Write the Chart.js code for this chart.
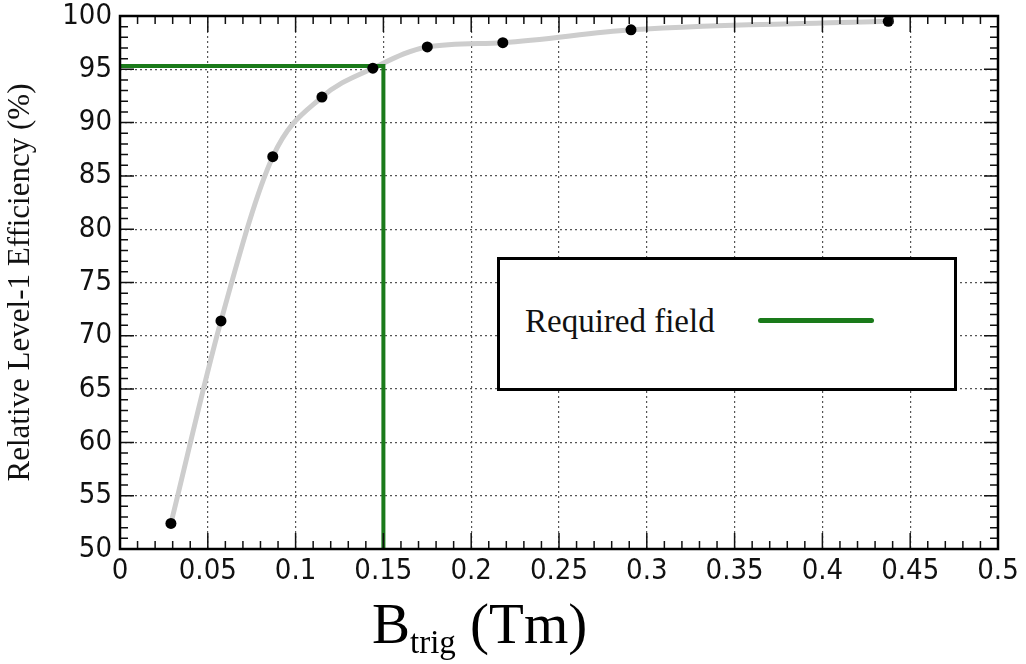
<!DOCTYPE html>
<html>
<head>
<meta charset="utf-8">
<script src="https://cdn.jsdelivr.net/npm/chart.js@4/dist/chart.umd.min.js"></script>
<style>
  html, body { margin: 0; padding: 0; background: #fff; }
  #wrap { position: relative; width: 1026px; height: 664px; }
  #legendBox {
    position: absolute; left: 497px; top: 257px; width: 454px; height: 128px;
    border: 3px solid #000; background: #fff;
  }
  #legendBox .txt {
    position: absolute; left: 25px; top: 43px; white-space: nowrap;
    font: 33px 'Liberation Serif', 'Times New Roman', serif; color: #111;
  }
  #legendBox .swatch {
    position: absolute; left: 258px; top: 58px; width: 116px; height: 5px;
    background: #1a7a1a; border-radius: 3px;
  }
  #xTitle {
    position: absolute; left: 372px; top: 591px; white-space: nowrap;
    font: 57px 'Liberation Serif', 'Times New Roman', serif; color: #000;
  }
  #xTitle sub { font-size: 33px; vertical-align: -10px; }
</style>
</head>
<body>
<div id="wrap">
  <canvas id="chart" width="1026" height="664"></canvas>
  <div id="legendBox"><span class="txt">Required field</span><span class="swatch"></span></div>
  <div id="xTitle">B<sub>trig</sub> (Tm)</div>
</div>
<script>
// measured points: trigger field (Tm) vs relative efficiency (%)
const bTrig = [0.029, 0.0575, 0.087, 0.115, 0.144, 0.175, 0.218, 0.291, 0.4375];
const efficiency = [52.4, 71.4, 86.8, 92.4, 95.1, 97.1, 97.5, 98.7, 99.5];

// required field marker
const requiredB = 0.15;
const requiredEff = 95.3;

const xRange = [0, 0.5];
const yRange = [50, 100];

const points = bTrig.map((x, i) => ({ x, y: efficiency[i] }));
const requiredLine = [
  { x: xRange[0], y: requiredEff },
  { x: requiredB, y: requiredEff },
  { x: requiredB, y: yRange[0] },
];

const tickFont = { family: "'DejaVu Sans Condensed', 'DejaVu Sans', sans-serif", size: 29 };
const gridStyle = { color: '#555', lineWidth: 1.2, drawTicks: false };

// frame and inward ticks on all four sides
const frameTicks = {
  id: 'frameTicks',
  afterDatasetsDraw(chart) {
    const { ctx, chartArea: a, scales: { x, y } } = chart;
    ctx.save();
    ctx.strokeStyle = '#111';
    ctx.lineWidth = 1.5;
    ctx.beginPath();
    for (let i = 0; i <= 50; i++) {
      const px = x.getPixelForValue(i * 0.01);
      const len = i % 5 === 0 ? 16 : 8;
      ctx.moveTo(px, a.bottom); ctx.lineTo(px, a.bottom - len);
      ctx.moveTo(px, a.top); ctx.lineTo(px, a.top + len);
    }
    for (let v = yRange[0]; v <= yRange[1]; v++) {
      const py = y.getPixelForValue(v);
      const len = v % 5 === 0 ? 14 : 8;
      ctx.moveTo(a.left, py); ctx.lineTo(a.left + len, py);
      ctx.moveTo(a.right, py); ctx.lineTo(a.right - len, py);
    }
    ctx.stroke();
    ctx.lineWidth = 2.5;
    ctx.strokeStyle = '#000';
    ctx.strokeRect(a.left, a.top, a.right - a.left, a.bottom - a.top);
    ctx.restore();
  }
};

new Chart(document.getElementById('chart'), {
  type: 'scatter',
  data: {
    datasets: [
      {
        label: 'points',
        data: points,
        showLine: false,
        pointRadius: 5.5,
        pointBackgroundColor: '#000',
        pointBorderWidth: 0,
        order: 0,
      },
      {
        label: 'Required field',
        data: requiredLine,
        showLine: true,
        borderColor: '#1a7a1a',
        borderWidth: 4,
        pointRadius: 0,
        order: 1,
      },
      {
        label: 'fit',
        data: points,
        showLine: true,
        borderColor: '#cdcdcd',
        borderWidth: 5,
        cubicInterpolationMode: 'monotone',
        pointRadius: 0,
        order: 2,
      },
    ]
  },
  options: {
    responsive: false,
    animation: false,
    layout: { padding: { top: 16, right: 28, left: 0, bottom: 0 } },
    plugins: { legend: { display: false }, tooltip: { enabled: false } },
    scales: {
      x: {
        type: 'linear',
        min: xRange[0], max: xRange[1],
        ticks: {
          stepSize: 0.05, color: '#111', font: tickFont, padding: 5, maxRotation: 0,
          callback: v => String(Number(v.toFixed(2))),
        },
        grid: { ...gridStyle },
        border: { display: false, dash: [2, 3] },
        afterFit(scale) { scale.height = 115; },
      },
      y: {
        type: 'linear',
        min: yRange[0], max: yRange[1],
        ticks: { stepSize: 5, color: '#111', font: tickFont, padding: 8 },
        grid: { ...gridStyle },
        border: { display: false, dash: [2, 3] },
        title: {
          display: true,
          text: 'Relative Level-1 Efficiency (%)',
          color: '#111',
          font: { family: "'Liberation Serif', 'Times New Roman', serif", size: 31 },
          padding: { top: 2, bottom: 0 },
        },
        afterFit(scale) {
          scale.width = 120;
          scale.paddingTop = 0;
          scale.paddingBottom = 0;
        },
      },
    }
  },
  plugins: [frameTicks]
});
</script>
</body>
</html>
